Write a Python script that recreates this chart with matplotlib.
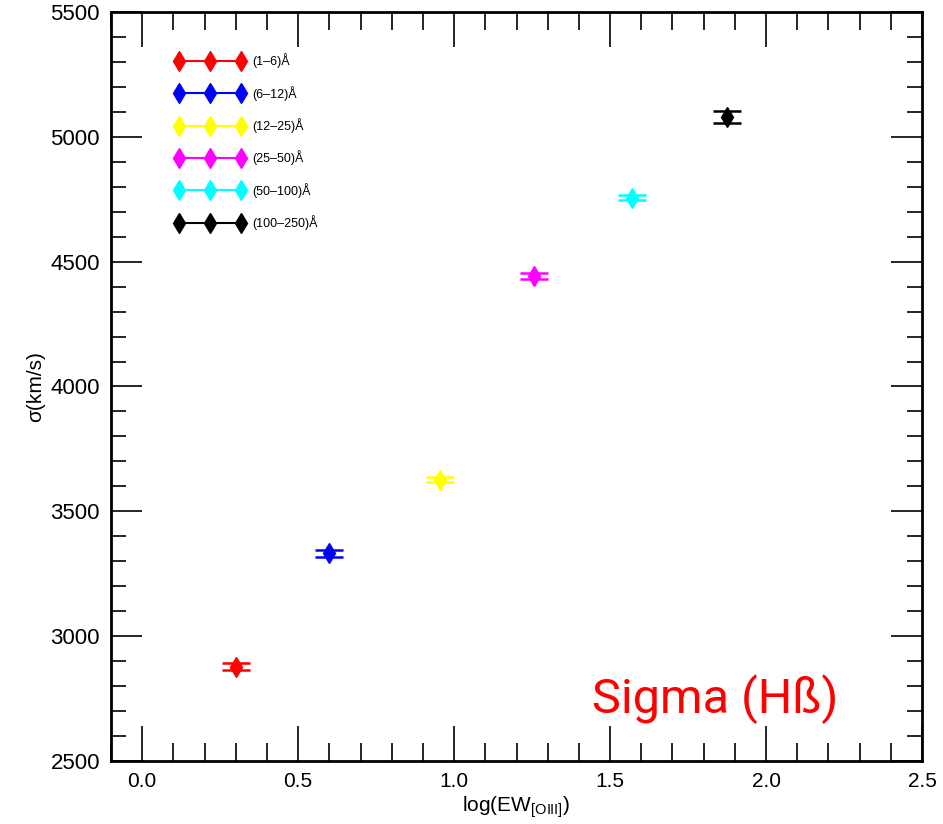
import matplotlib
matplotlib.use("Agg")
import matplotlib.pyplot as plt
from matplotlib.ticker import MultipleLocator, FormatStrFormatter

plt.rcParams['font.family'] = ['Liberation Sans', 'DejaVu Sans']

# EW[OIII] bins and mean Hbeta line width per bin
bin_labels = ["(1\u20136)\u00c5", "(6\u201312)\u00c5", "(12\u201325)\u00c5",
              "(25\u201350)\u00c5", "(50\u2013100)\u00c5", "(100\u2013250)\u00c5"]
colors = ["red", "blue", "yellow", "magenta", "cyan", "black"]
log_ew = [0.30, 0.60, 0.955, 1.255, 1.57, 1.875]
sigma = [2878, 3333, 3627, 4444, 4757, 5080]
sigma_err = [14, 14, 10, 12, 12, 25]

fig = plt.figure(figsize=(9.43, 8.24), dpi=100)
ax = fig.add_axes([111 / 943, 1 - 761 / 824, (922 - 111) / 943, (761 - 12) / 824])

for x, y, e, c, lab in zip(log_ew, sigma, sigma_err, colors, bin_labels):
    ax.errorbar([x], [y], yerr=[e], fmt='d', color=c, ms=10, mec=c,
                capsize=10, capthick=1.8, elinewidth=1.8)
    # legend proxy: line with three diamonds
    ax.plot([], [], '-d', color=c, ms=10, lw=1.5, label=lab)

ax.set_xlim(-0.1, 2.5)
ax.set_ylim(2500, 5500)
ax.xaxis.set_major_locator(MultipleLocator(0.5))
ax.xaxis.set_minor_locator(MultipleLocator(0.1))
ax.yaxis.set_major_locator(MultipleLocator(500))
ax.yaxis.set_minor_locator(MultipleLocator(100))
ax.xaxis.set_major_formatter(FormatStrFormatter('%.1f'))

ax.tick_params(axis='x', which='major', direction='in', length=25, width=1.2,
               top=True, labelsize=15, pad=8)
ax.tick_params(axis='x', which='minor', direction='in', length=13, width=1.2, top=True)
ax.tick_params(axis='y', which='major', direction='in', length=22, width=1.2,
               right=True, labelsize=16, pad=8)
ax.tick_params(axis='y', which='minor', direction='in', length=11, width=1.2, right=True)
for s in ax.spines.values():
    s.set_linewidth(2)

ax.set_xlabel(r"log(EW$_{\mathregular{[OIII]}}$)", fontsize=15, labelpad=2)
ax.set_ylabel("\u03c3(km/s)", fontsize=15, labelpad=4)

leg = ax.legend(loc='upper left', bbox_to_anchor=(0.065, 0.96), numpoints=3,
                handlelength=5.6, frameon=False, fontsize=9, labelspacing=1.4,
                handletextpad=0.6)

ax.text(0.897, 0.064, "Sigma (H\u00df)", transform=ax.transAxes, color='red',
        fontsize=35, ha='right', va='baseline', family=['Roboto', 'DejaVu Sans'],
        fontweight='normal')

fig.savefig("out.png", dpi=100)
